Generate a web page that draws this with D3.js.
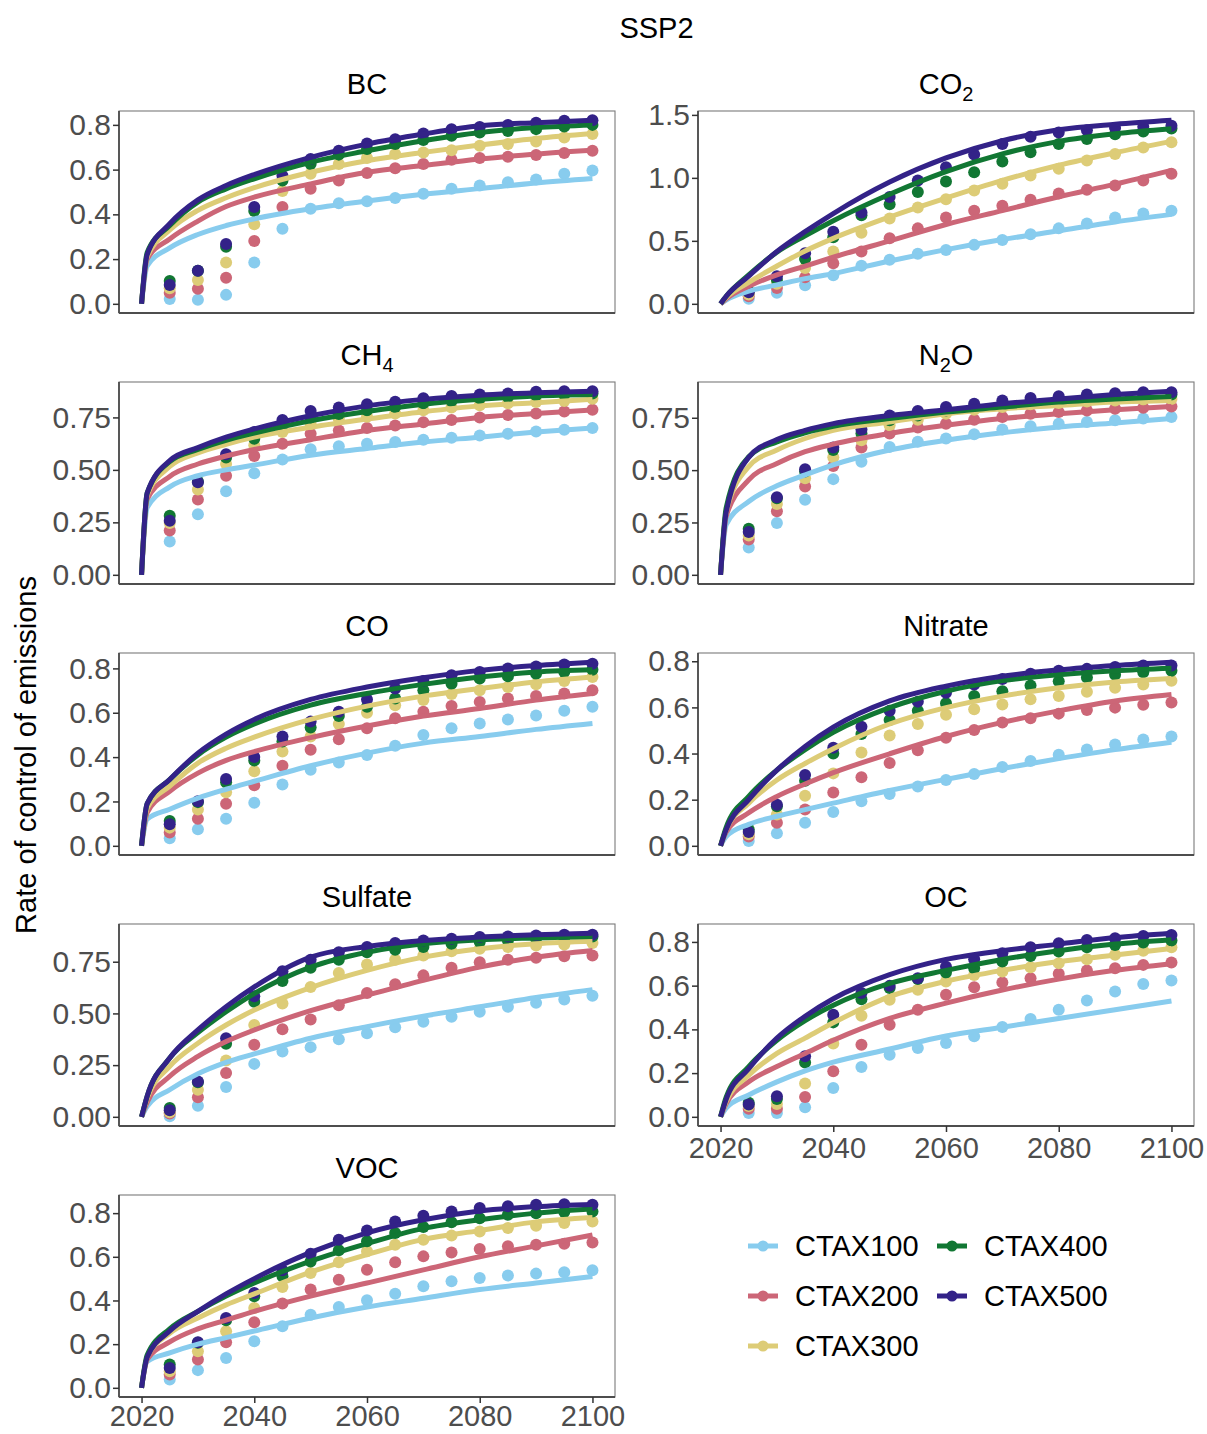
<!DOCTYPE html>
<html><head><meta charset="utf-8">
<script src="https://cdn.jsdelivr.net/npm/d3@7"></script>
<style>body{margin:0;background:#fff}svg{display:block}</style>
</head><body>
<svg id="chart" width="1207" height="1434"></svg>
<script>
// ---------------- DATA ----------------
const scenarios = ["CTAX100","CTAX200","CTAX300","CTAX400","CTAX500"];
const colors = ["#88CCEE","#CC6677","#DDCC77","#117733","#332288"];
const pollutants = ["BC","CO2","CH4","N2O","CO","Nitrate","Sulfate","OC","VOC"];
const pointYears = [2025,2030,2035,2040,2045,2050,2055,2060,2065,2070,2075,2080,2085,2090,2095,2100];
const fitYears = [2020,2021,2025,2030,2035,2040,2050,2060,2070,2080,2090,2100];
const xTicks = [2020,2040,2060,2080,2100];

const bcPoints = [
 [0.022,0.018,0.04,0.185,0.336,0.425,0.45,0.459,0.473,0.492,0.514,0.529,0.544,0.556,0.581,0.596],
 [0.05,0.067,0.117,0.281,0.433,0.514,0.551,0.585,0.606,0.625,0.644,0.652,0.658,0.665,0.674,0.684],
 [0.07,0.107,0.185,0.356,0.504,0.581,0.625,0.652,0.67,0.677,0.687,0.707,0.714,0.726,0.744,0.759],
 [0.102,0.148,0.255,0.415,0.551,0.625,0.667,0.692,0.714,0.732,0.751,0.766,0.773,0.781,0.793,0.8],
 [0.084,0.148,0.267,0.433,0.573,0.647,0.684,0.717,0.736,0.761,0.781,0.791,0.8,0.81,0.818,0.821]];
const bcFit = [
 [0,0.17,0.25,0.31,0.35,0.38,0.425,0.46,0.49,0.515,0.54,0.56],
 [0,0.2,0.29,0.37,0.435,0.477,0.536,0.588,0.618,0.647,0.67,0.687],
 [0,0.21,0.33,0.418,0.474,0.519,0.588,0.64,0.677,0.71,0.739,0.761],
 [0,0.23,0.35,0.455,0.514,0.559,0.633,0.684,0.729,0.766,0.788,0.8],
 [0,0.22,0.358,0.465,0.529,0.578,0.655,0.714,0.759,0.796,0.81,0.821]];
const bcTicks = [0,0.2,0.4,0.6,0.8];

const co2Points = [
 [0.04,0.087,0.147,0.226,0.302,0.349,0.397,0.428,0.468,0.507,0.552,0.599,0.638,0.686,0.717,0.738],
 [0.06,0.126,0.21,0.323,0.415,0.52,0.599,0.686,0.738,0.778,0.827,0.875,0.906,0.94,0.98,1.032],
 [0.074,0.16,0.284,0.415,0.565,0.678,0.764,0.83,0.9,0.953,1.019,1.072,1.137,1.19,1.242,1.282],
 [0.1,0.19,0.355,0.528,0.704,0.79,0.888,0.972,1.045,1.13,1.203,1.269,1.308,1.347,1.369,1.392],
 [0.092,0.218,0.402,0.573,0.725,0.848,0.98,1.085,1.185,1.269,1.326,1.361,1.379,1.395,1.405,1.413]];
const co2Fit = [
 [0,0.03,0.1,0.15,0.2,0.24,0.34,0.43,0.51,0.58,0.65,0.71],
 [0,0.04,0.14,0.23,0.3,0.37,0.5,0.63,0.74,0.85,0.95,1.06],
 [0,0.05,0.17,0.3,0.42,0.52,0.69,0.84,0.98,1.1,1.2,1.29],
 [0,0.06,0.23,0.41,0.54,0.66,0.87,1.05,1.19,1.29,1.35,1.39],
 [0,0.06,0.22,0.415,0.573,0.717,0.967,1.158,1.295,1.382,1.426,1.458]];
const co2Ticks = [0,0.5,1.0,1.5];

const ch4Points = [
 [0.159,0.289,0.398,0.484,0.55,0.598,0.613,0.625,0.633,0.644,0.653,0.664,0.672,0.683,0.691,0.7],
 [0.211,0.359,0.472,0.566,0.625,0.672,0.688,0.7,0.711,0.727,0.738,0.75,0.761,0.769,0.778,0.786],
 [0.247,0.406,0.528,0.617,0.68,0.719,0.742,0.753,0.769,0.784,0.797,0.808,0.817,0.823,0.828,0.839],
 [0.281,0.445,0.559,0.648,0.711,0.75,0.766,0.784,0.8,0.817,0.828,0.841,0.847,0.855,0.859,0.864],
 [0.258,0.441,0.575,0.68,0.738,0.781,0.797,0.813,0.825,0.841,0.852,0.859,0.864,0.872,0.875,0.875]];
const ch4Fit = [
 [0,0.32,0.419,0.472,0.5,0.523,0.57,0.602,0.633,0.656,0.68,0.7],
 [0,0.36,0.469,0.528,0.566,0.597,0.644,0.688,0.719,0.75,0.769,0.786],
 [0,0.38,0.516,0.581,0.622,0.656,0.703,0.742,0.777,0.805,0.82,0.836],
 [0,0.39,0.539,0.597,0.641,0.675,0.734,0.778,0.813,0.836,0.852,0.859],
 [0,0.39,0.544,0.606,0.656,0.695,0.758,0.805,0.836,0.856,0.867,0.875]];
const ch4Ticks = [0,0.25,0.5,0.75];

const n2oPoints = [
 [0.13,0.248,0.359,0.457,0.54,0.611,0.635,0.651,0.671,0.694,0.709,0.722,0.73,0.738,0.746,0.754],
 [0.169,0.303,0.422,0.52,0.608,0.675,0.703,0.722,0.741,0.754,0.769,0.777,0.785,0.793,0.798,0.804],
 [0.188,0.338,0.461,0.561,0.643,0.714,0.741,0.769,0.788,0.801,0.814,0.82,0.828,0.833,0.837,0.84],
 [0.22,0.366,0.493,0.596,0.675,0.738,0.761,0.785,0.804,0.817,0.829,0.84,0.848,0.853,0.856,0.861],
 [0.204,0.37,0.504,0.608,0.694,0.761,0.782,0.801,0.817,0.833,0.845,0.853,0.861,0.867,0.872,0.872]];
const n2oFit = [
 [0,0.24,0.35,0.425,0.477,0.525,0.596,0.643,0.678,0.706,0.725,0.746],
 [0,0.28,0.453,0.532,0.588,0.624,0.675,0.714,0.746,0.769,0.788,0.804],
 [0,0.3,0.517,0.596,0.651,0.69,0.73,0.769,0.793,0.809,0.825,0.833],
 [0,0.32,0.564,0.635,0.678,0.709,0.746,0.777,0.801,0.825,0.84,0.852],
 [0,0.3,0.561,0.646,0.69,0.722,0.761,0.788,0.817,0.84,0.861,0.877]];
const n2oTicks = [0,0.25,0.5,0.75];

const coPoints = [
 [0.034,0.075,0.122,0.194,0.276,0.343,0.376,0.41,0.451,0.5,0.53,0.552,0.57,0.588,0.609,0.627],
 [0.06,0.122,0.19,0.273,0.361,0.433,0.481,0.53,0.575,0.604,0.63,0.649,0.664,0.675,0.687,0.701],
 [0.082,0.164,0.242,0.336,0.425,0.493,0.549,0.6,0.634,0.657,0.684,0.701,0.716,0.728,0.743,0.761],
 [0.112,0.197,0.287,0.385,0.47,0.534,0.585,0.627,0.664,0.701,0.731,0.754,0.764,0.776,0.784,0.794],
 [0.097,0.201,0.301,0.4,0.493,0.56,0.604,0.66,0.709,0.743,0.769,0.784,0.799,0.809,0.818,0.821]];
const coFit = [
 [0,0.12,0.165,0.215,0.255,0.291,0.361,0.418,0.463,0.493,0.525,0.552],
 [0,0.15,0.246,0.328,0.385,0.425,0.488,0.54,0.585,0.619,0.657,0.687],
 [0,0.17,0.269,0.373,0.44,0.49,0.57,0.63,0.675,0.709,0.739,0.761],
 [0,0.19,0.299,0.41,0.49,0.549,0.634,0.687,0.728,0.761,0.784,0.794],
 [0,0.19,0.299,0.418,0.504,0.57,0.66,0.716,0.758,0.791,0.813,0.828]];
const coTicks = [0,0.2,0.4,0.6,0.8];

const nitratePoints = [
 [0.021,0.054,0.1,0.147,0.193,0.225,0.257,0.285,0.311,0.342,0.368,0.395,0.418,0.439,0.461,0.474],
 [0.04,0.1,0.157,0.231,0.297,0.359,0.414,0.468,0.502,0.535,0.553,0.573,0.589,0.599,0.611,0.621],
 [0.05,0.136,0.217,0.314,0.404,0.478,0.528,0.568,0.592,0.613,0.635,0.649,0.668,0.685,0.699,0.716],
 [0.071,0.171,0.282,0.4,0.485,0.545,0.585,0.618,0.649,0.67,0.695,0.713,0.73,0.742,0.752,0.759],
 [0.06,0.178,0.307,0.425,0.516,0.585,0.625,0.663,0.699,0.723,0.746,0.759,0.767,0.775,0.782,0.782]];
const nitrateFit = [
 [0,0.04,0.093,0.128,0.157,0.185,0.24,0.288,0.335,0.378,0.417,0.449],
 [0,0.06,0.143,0.214,0.268,0.317,0.399,0.474,0.535,0.585,0.628,0.656],
 [0,0.07,0.185,0.285,0.357,0.421,0.528,0.599,0.649,0.685,0.71,0.725],
 [0,0.08,0.214,0.328,0.417,0.492,0.599,0.67,0.716,0.742,0.759,0.77],
 [0,0.07,0.2,0.328,0.431,0.514,0.628,0.692,0.735,0.763,0.782,0.796]];
const nitrateTicks = [0,0.2,0.4,0.6,0.8];

const sulfatePoints = [
 [0.003,0.054,0.144,0.256,0.316,0.337,0.375,0.404,0.433,0.46,0.484,0.508,0.532,0.551,0.567,0.585],
 [0.016,0.095,0.212,0.348,0.423,0.471,0.54,0.599,0.641,0.684,0.721,0.748,0.76,0.769,0.776,0.78],
 [0.022,0.131,0.272,0.444,0.548,0.628,0.696,0.737,0.76,0.78,0.801,0.813,0.821,0.829,0.833,0.84],
 [0.043,0.167,0.353,0.556,0.657,0.721,0.76,0.796,0.808,0.821,0.837,0.845,0.853,0.861,0.865,0.872],
 [0.032,0.171,0.38,0.583,0.704,0.76,0.796,0.821,0.84,0.853,0.861,0.869,0.872,0.877,0.881,0.881]];
const sulfateFit = [
 [0,0.05,0.131,0.208,0.263,0.304,0.38,0.436,0.487,0.532,0.577,0.615],
 [0,0.07,0.196,0.292,0.364,0.42,0.513,0.588,0.66,0.724,0.772,0.804],
 [0,0.09,0.244,0.356,0.444,0.516,0.625,0.708,0.772,0.813,0.837,0.849],
 [0,0.1,0.284,0.407,0.508,0.596,0.724,0.796,0.837,0.856,0.865,0.872],
 [0,0.1,0.284,0.42,0.532,0.628,0.772,0.824,0.853,0.869,0.881,0.888]];
const sulfateTicks = [0,0.25,0.5,0.75];

const ocPoints = [
 [0.018,0.018,0.044,0.132,0.228,0.284,0.315,0.338,0.368,0.411,0.447,0.49,0.532,0.573,0.608,0.624],
 [0.037,0.037,0.091,0.208,0.33,0.421,0.49,0.558,0.593,0.614,0.634,0.654,0.669,0.68,0.695,0.706],
 [0.049,0.059,0.152,0.335,0.462,0.535,0.581,0.619,0.649,0.665,0.684,0.703,0.721,0.741,0.76,0.776],
 [0.064,0.082,0.249,0.432,0.538,0.589,0.63,0.66,0.68,0.71,0.736,0.756,0.776,0.786,0.797,0.806],
 [0.056,0.094,0.277,0.467,0.566,0.599,0.634,0.687,0.721,0.748,0.776,0.794,0.809,0.817,0.827,0.832]];
const ocFit = [
 [0,0.04,0.1,0.16,0.21,0.25,0.31,0.37,0.41,0.45,0.49,0.53],
 [0,0.06,0.16,0.23,0.29,0.35,0.45,0.52,0.58,0.63,0.67,0.7],
 [0,0.07,0.19,0.29,0.36,0.43,0.55,0.62,0.67,0.71,0.74,0.77],
 [0,0.09,0.23,0.35,0.44,0.51,0.61,0.67,0.72,0.76,0.79,0.81],
 [0,0.08,0.22,0.36,0.46,0.54,0.65,0.72,0.76,0.79,0.82,0.84]];
const ocTicks = [0,0.2,0.4,0.6,0.8];

const vocPoints = [
 [0.038,0.081,0.137,0.213,0.282,0.335,0.37,0.401,0.431,0.465,0.488,0.503,0.514,0.523,0.529,0.538],
 [0.061,0.13,0.209,0.3,0.386,0.45,0.495,0.541,0.575,0.602,0.62,0.636,0.648,0.655,0.66,0.666],
 [0.076,0.168,0.259,0.366,0.462,0.526,0.575,0.625,0.655,0.678,0.697,0.716,0.732,0.742,0.755,0.762],
 [0.107,0.206,0.309,0.419,0.511,0.579,0.63,0.671,0.709,0.736,0.758,0.777,0.793,0.8,0.805,0.808],
 [0.091,0.209,0.32,0.434,0.538,0.614,0.678,0.721,0.762,0.788,0.808,0.823,0.831,0.838,0.841,0.838]];
const vocFit = [
 [0,0.12,0.16,0.2,0.23,0.26,0.32,0.37,0.41,0.45,0.48,0.51],
 [0,0.13,0.21,0.27,0.31,0.35,0.42,0.48,0.54,0.6,0.65,0.7],
 [0,0.14,0.25,0.32,0.38,0.43,0.53,0.61,0.68,0.72,0.76,0.78],
 [0,0.15,0.27,0.35,0.42,0.48,0.58,0.66,0.73,0.77,0.8,0.82],
 [0,0.14,0.26,0.35,0.43,0.5,0.62,0.71,0.77,0.81,0.83,0.84]];
const vocTicks = [0,0.2,0.4,0.6,0.8];

const tickFormats = [".1f",".1f",".2f",".2f",".1f",".1f",".2f",".1f",".1f"];

// ---------------- LAYOUT ----------------
const FONT = "'Liberation Sans', Arial, Helvetica, sans-serif";
const colLeft = [119, 698];
const panelW = 496, panelH = 202;
const rowTop0 = 111, rowStep = 271;

const panels = [
 {pts:bcPoints, fit:bcFit, ticks:bcTicks},
 {pts:co2Points, fit:co2Fit, ticks:co2Ticks},
 {pts:ch4Points, fit:ch4Fit, ticks:ch4Ticks},
 {pts:n2oPoints, fit:n2oFit, ticks:n2oTicks},
 {pts:coPoints, fit:coFit, ticks:coTicks},
 {pts:nitratePoints, fit:nitrateFit, ticks:nitrateTicks},
 {pts:sulfatePoints, fit:sulfateFit, ticks:sulfateTicks},
 {pts:ocPoints, fit:ocFit, ticks:ocTicks},
 {pts:vocPoints, fit:vocFit, ticks:vocTicks}
].map((p,i)=>Object.assign(p,{name:pollutants[i], fmt:tickFormats[i]}));

const svg = d3.select("#chart").style("font-family", FONT);
svg.append("rect").attr("width",1207).attr("height",1434).attr("fill","#fff");

// title
svg.append("text").attr("x",656.5).attr("y",38).attr("text-anchor","middle")
  .attr("font-size",29).attr("fill","#000").text("SSP2");

// y axis title
svg.append("text").attr("transform","translate(36,755) rotate(-90)")
  .attr("text-anchor","middle").attr("font-size",29).attr("fill","#000")
  .text("Rate of control of emissions");

function addLabel(sel, label){
  const parts = label.match(/\d+|\D+/g);
  let shifted = false;
  parts.forEach(part=>{
    if (/^\d+$/.test(part)) {
      sel.append("tspan").attr("font-size",20).attr("dy",7).text(part);
      shifted = true;
    } else {
      sel.append("tspan").attr("dy", shifted ? -7 : 0).text(part);
      shifted = false;
    }
  });
}

const xExt = d3.extent(fitYears);
const xPad = (xExt[1]-xExt[0])*0.05;
const LW = 5, R = 6;

panels.forEach((p,i)=>{
  const col = i%2, row = Math.floor(i/2);
  const left = colLeft[col], top = rowTop0 + row*rowStep;
  const g = svg.append("g").attr("transform",`translate(${left},${top})`);

  const x = d3.scaleLinear().domain([xExt[0]-xPad, xExt[1]+xPad]).range([0,panelW]);
  const maxV = d3.max([d3.max(p.pts.flat()), d3.max(p.fit.flat())]);
  const minV = 0;
  const yPad = (maxV-minV)*0.05;
  const y = d3.scaleLinear().domain([minV-yPad, maxV+yPad]).range([panelH,0]);

  const st = svg.append("text").attr("x", left+panelW/2).attr("y", top-17)
    .attr("text-anchor","middle").attr("font-size",29).attr("fill","#000");
  addLabel(st, p.name);

  p.pts.forEach((vals,s)=>{
    g.append("g").selectAll("circle").data(vals.map((v,k)=>[pointYears[k],v]))
      .join("circle").attr("cx",d=>x(d[0])).attr("cy",d=>y(d[1])).attr("r",R)
      .attr("fill",colors[s]);
  });
  const line = d3.line().x(d=>x(d[0])).y(d=>y(d[1])).curve(d3.curveMonotoneX);
  p.fit.forEach((vals,s)=>{
    g.append("path").datum(vals.map((v,k)=>[fitYears[k],v]))
      .attr("d",line).attr("fill","none").attr("stroke",colors[s])
      .attr("stroke-width",LW).attr("stroke-linejoin","round");
  });

  g.append("rect").attr("x",0).attr("y",0).attr("width",panelW).attr("height",panelH)
    .attr("fill","none").attr("stroke","#7a7a7a").attr("stroke-width",1.1);
  g.append("line").attr("x1",0).attr("x2",0).attr("y1",0).attr("y2",panelH)
    .attr("stroke","#4d4d4d").attr("stroke-width",1.8);
  g.append("line").attr("x1",0).attr("x2",panelW).attr("y1",panelH).attr("y2",panelH)
    .attr("stroke","#4d4d4d").attr("stroke-width",1.8);

  const ya = g.append("g").call(d3.axisLeft(y).tickValues(p.ticks)
      .tickFormat(d3.format(p.fmt)).tickSize(6).tickPadding(2).tickSizeOuter(0));
  ya.select(".domain").remove();
  ya.selectAll("line").attr("stroke","#333").attr("stroke-width",1.5);
  ya.selectAll("text").attr("font-size",30).attr("fill","#4d4d4d").attr("font-family",FONT);

  if (i===7 || i===8) {
    const xa = g.append("g").attr("transform",`translate(0,${panelH})`)
      .call(d3.axisBottom(x).tickValues(xTicks).tickFormat(d3.format("d"))
      .tickSize(6).tickPadding(i===8 ? 2 : 5).tickSizeOuter(0));
    xa.select(".domain").remove();
    xa.selectAll("line").attr("stroke","#333").attr("stroke-width",1.5);
    xa.selectAll("text").attr("font-size",29).attr("fill","#4d4d4d").attr("font-family",FONT);
  }
});

// legend
const legendPos = [[763,1246],[763,1296],[763,1346],[952,1246],[952,1296]];
const lg = svg.append("g");
scenarios.forEach((s,k)=>{
  const [cx,cy] = legendPos[k];
  lg.append("line").attr("x1",cx-15).attr("x2",cx+15).attr("y1",cy).attr("y2",cy)
    .attr("stroke",colors[k]).attr("stroke-width",LW);
  lg.append("circle").attr("cx",cx).attr("cy",cy).attr("r",R-0.5).attr("fill",colors[k]);
  lg.append("text").attr("x",cx+32).attr("y",cy).attr("dy","0.36em")
    .attr("font-size",29).attr("fill","#000").text(s);
});
</script>
</body></html>
